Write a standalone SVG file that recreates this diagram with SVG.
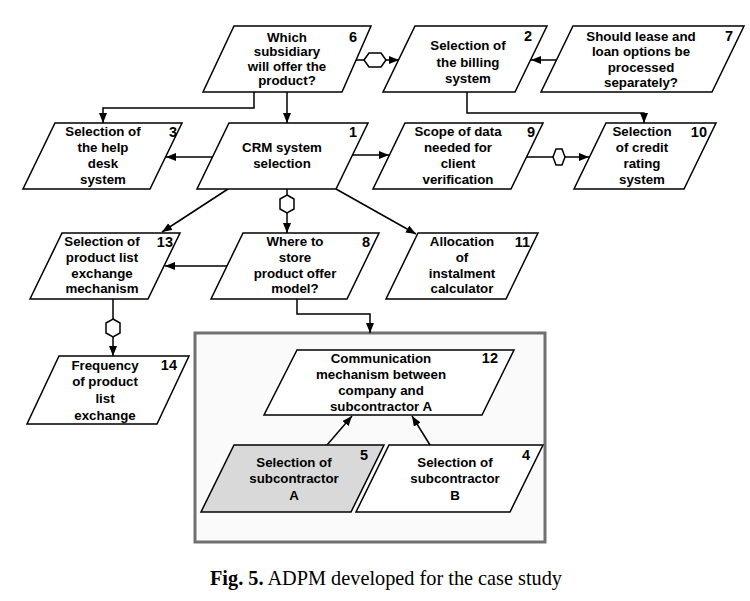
<svg xmlns="http://www.w3.org/2000/svg" width="750" height="601" viewBox="0 0 750 601">
<style>
.n{fill:#fff;stroke:#000;stroke-width:1.5;stroke-linejoin:miter}
.g{fill:#d9d9d9}
.t{font-family:"Liberation Sans",Arial,sans-serif;font-weight:bold;font-size:13.3px;text-anchor:middle;fill:#000}
.k{font-family:"Liberation Sans",Arial,sans-serif;font-weight:bold;font-size:14.5px;text-anchor:end;fill:#000}
.c{fill:none;stroke:#000;stroke-width:1.5}
.a{marker-end:url(#ah)}
.h{fill:#fff;stroke:#000;stroke-width:1.5}
.cap{font-family:"Liberation Serif","Times New Roman",serif;font-size:20.3px;text-anchor:middle;fill:#000}
</style>
<defs>
<marker id="ah" markerUnits="userSpaceOnUse" markerWidth="11" markerHeight="9" refX="10" refY="4" orient="auto">
<path d="M0,0 L10,4 L0,8 z" fill="#000"/>
</marker>
</defs>
<rect width="750" height="601" fill="#fff"/>
<rect id="group-box" x="195" y="333" width="350" height="209" fill="#fafafa" stroke="#707070" stroke-width="3"/>
<g id="connectors">
<path class="c a" d="M355,60 H364 M386,60 H399"/>
<polygon class="h" points="364,60 369,53 381,53 386,60 381,67 369,67"/>
<path class="c a" d="M556,60 H531"/>
<path class="c a" d="M254,92 V108 H103 V123"/>
<path class="c a" d="M287,92 V123"/>
<path class="c a" d="M467,92 V113 H644 V123"/>
<path class="c a" d="M212,157 H166"/>
<path class="c a" d="M352,155 H389"/>
<path class="c" d="M526,157 H553"/>
<path class="c a" d="M565,157 H589"/>
<polygon class="h" points="553,157 556,149 562,149 565,157 562,165 556,165"/>
<path class="c a" d="M228,189 L162,232"/>
<path class="c" d="M287,189 V195"/>
<path class="c a" d="M287,213 V233"/>
<polygon class="h" points="287,195 294,199 294,209 287,213 280,209 280,199"/>
<path class="c a" d="M336,189 L416,234"/>
<path class="c a" d="M227,266 H165"/>
<path class="c" d="M113,299 V319"/>
<path class="c a" d="M113,337 V356"/>
<polygon class="h" points="113,319 120,323 120,333 113,337 106,333 106,323"/>
<path class="c a" d="M297,299 V314 H370 V333"/>
<path class="c a" d="M327,445 L352,416"/>
<path class="c a" d="M430,445 L412,416"/>
</g>
<g id="node6"><polygon class="n" points="234,26 371,26 342,92 203,92"/>
<text class="t" x="287" y="41.5">Which</text><text class="t" x="287" y="56">subsidiary</text><text class="t" x="287" y="70.5">will offer the</text><text class="t" x="287" y="85">product?</text><text class="k" x="357" y="42">6</text></g>
<g id="node2"><polygon class="n" points="415,26 547,26 515,92 383,92"/>
<text class="t" x="468" y="50">Selection of</text><text class="t" x="468" y="66.5">the billing</text><text class="t" x="468" y="83">system</text><text class="k" x="532" y="41">2</text></g>
<g id="node7"><polygon class="n" points="573,26 744,26 712,92 541,92"/>
<text class="t" x="641" y="40.5">Should lease and</text><text class="t" x="641" y="56">loan options be</text><text class="t" x="641" y="71.5">processed</text><text class="t" x="641" y="87">separately?</text><text class="k" x="733" y="41">7</text></g>
<g id="node3"><polygon class="n" points="55,123 182,123 150,189 23,189"/>
<text class="t" x="103" y="136">Selection of</text><text class="t" x="103" y="152">the help</text><text class="t" x="103" y="168">desk</text><text class="t" x="103" y="183.5">system</text><text class="k" x="177" y="137">3</text></g>
<g id="node1"><polygon class="n" points="229,123 368,123 336,189 197,189"/>
<text class="t" x="282" y="152">CRM system</text><text class="t" x="282" y="168">selection</text><text class="k" x="357" y="137">1</text></g>
<g id="node9"><polygon class="n" points="405,123 543,123 511,189 373,189"/>
<text class="t" x="458" y="136">Scope of data</text><text class="t" x="458" y="152">needed for</text><text class="t" x="458" y="168">client</text><text class="t" x="458" y="183.5">verification</text><text class="k" x="535" y="137">9</text></g>
<g id="node10"><polygon class="n" points="606,123 716,123 684,189 574,189"/>
<text class="t" x="642" y="136">Selection</text><text class="t" x="642" y="152">of credit</text><text class="t" x="642" y="168">rating</text><text class="t" x="642" y="183.5">system</text><text class="k" x="707" y="137">10</text></g>
<g id="node13"><polygon class="n" points="62,233 180,233 148,299 30,299"/>
<text class="t" x="102" y="246">Selection of</text><text class="t" x="102" y="261.5">product list</text><text class="t" x="102" y="277.5">exchange</text><text class="t" x="102" y="293">mechanism</text><text class="k" x="173" y="247">13</text></g>
<g id="node8"><polygon class="n" points="243,233 379,233 347,299 211,299"/>
<text class="t" x="295" y="246">Where to</text><text class="t" x="295" y="261.5">store</text><text class="t" x="295" y="277.5">product offer</text><text class="t" x="295" y="293">model?</text><text class="k" x="370" y="247">8</text></g>
<g id="node11"><polygon class="n" points="418,233 538,233 506,299 386,299"/>
<text class="t" x="462" y="246">Allocation</text><text class="t" x="462" y="261.5">of</text><text class="t" x="462" y="277.5">instalment</text><text class="t" x="462" y="293">calculator</text><text class="k" x="530" y="247">11</text></g>
<g id="node14"><polygon class="n" points="59,356 189,356 157,424 27,424"/>
<text class="t" x="105" y="369.5">Frequency</text><text class="t" x="105" y="386">of product</text><text class="t" x="105" y="403">list</text><text class="t" x="105" y="419.5">exchange</text><text class="k" x="177" y="370">14</text></g>
<g id="node12"><polygon class="n" points="297,350 514,350 482,415 264,415"/>
<text class="t" x="381" y="363">Communication</text><text class="t" x="381" y="379">mechanism between</text><text class="t" x="381" y="395">company and</text><text class="t" x="381" y="410.5">subcontractor A</text><text class="k" x="498" y="363">12</text></g>
<g id="node5"><polygon class="n g" points="234,445 384,445 351,512 201,512"/>
<text class="t" x="294" y="466.5">Selection of</text><text class="t" x="294" y="483">subcontractor</text><text class="t" x="294" y="499.5">A</text><text class="k" x="368" y="460">5</text></g>
<g id="node4"><polygon class="n" points="389,445 543,445 510,512 356,512"/>
<text class="t" x="455" y="466.5">Selection of</text><text class="t" x="455" y="483">subcontractor</text><text class="t" x="455" y="499.5">B</text><text class="k" x="530" y="460">4</text></g>
<text class="cap" x="386" y="585"><tspan font-weight="bold">Fig. 5.</tspan> ADPM developed for the case study</text>
</svg>
